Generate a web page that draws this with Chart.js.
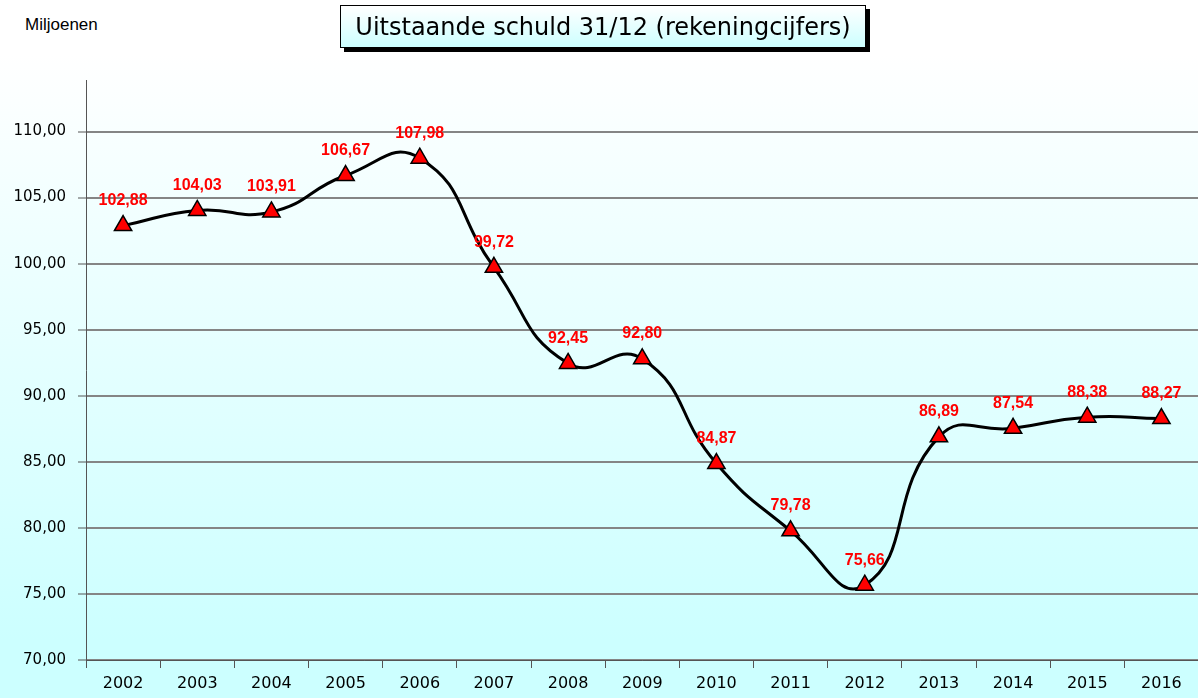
<!DOCTYPE html>
<html>
<head>
<meta charset="utf-8">
<script src="https://cdn.jsdelivr.net/npm/chart.js@4"></script>
<style>
  html, body { margin: 0; padding: 0; }
  body {
    width: 1198px; height: 698px; overflow: hidden; position: relative;
    background: linear-gradient(to bottom, #ffffff 0px, #ffffff 55px, #ccffff 640px, #ccffff 698px);
    font-family: "Liberation Sans", Arial, sans-serif;
  }
  #unit { position: absolute; left: 25px; top: 15px; font-size: 17px; color: #000; }
  #title {
    position: absolute; left: 340px; top: 5px; width: 524px; height: 41px;
    border: 1px solid #000; box-shadow: 4px 4px 0 #000;
    background: linear-gradient(to bottom, #ffffff, #ccffff);
    text-align: center; line-height: 42px;
    font-family: "DejaVu Sans", sans-serif; font-size: 24px; color: #000;
  }
  #wrap { position: absolute; left: 0; top: 0; width: 1210px; height: 698px; }
</style>
</head>
<body>
<div id="unit">Miljoenen</div>
<div id="wrap"><canvas id="chart"></canvas></div>
<div id="title">Uitstaande schuld 31/12 (rekeningcijfers)</div>
<script>
const years = ["2002", "2003", "2004", "2005", "2006", "2007", "2008", "2009", "2010", "2011", "2012", "2013", "2014", "2015", "2016"];
const debt = [102.88, 104.03, 103.91, 106.67, 107.98, 99.72, 92.45, 92.80, 84.87, 79.78, 75.66, 86.89, 87.54, 88.38, 88.27];
const yTicks = [70, 75, 80, 85, 90, 95, 100, 105, 110];

const fmt = v => v.toFixed(2).replace(".", ",");

// red value labels above each marker
const valueLabels = {
  id: "valueLabels",
  afterDatasetsDraw(chart) {
    const ctx = chart.ctx;
    const meta = chart.getDatasetMeta(0);
    ctx.save();
    ctx.font = "bold 16px 'Liberation Sans', Arial, sans-serif";
    ctx.fillStyle = "#ff0000";
    ctx.textAlign = "center";
    ctx.textBaseline = "middle";
    meta.data.forEach((p, i) => {
      ctx.fillText(fmt(debt[i]), p.x, p.y - 25);
    });
    ctx.restore();
  }
};

new Chart(document.getElementById("chart"), {
  type: "line",
  data: {
    labels: years,
    datasets: [{
      data: debt,
      borderColor: "#000000",
      borderWidth: 3,
      tension: 0.5,
      fill: false,
      pointStyle: "triangle",
      pointRadius: 10,
      pointHoverRadius: 10,
      pointBackgroundColor: "#ff0000",
      pointBorderColor: "#000000",
      pointBorderWidth: 1.5
    }]
  },
  options: {
    responsive: true,
    maintainAspectRatio: false,
    animation: false,
    layout: { padding: { top: 80, right: 6, left: 0, bottom: 0 } },
    plugins: { legend: { display: false }, tooltip: { enabled: false } },
    scales: {
      x: {
        offset: true,
        afterFit(scale) { scale.height = 38; },
        grid: { offset: true, drawOnChartArea: false, drawTicks: true, tickLength: 8, color: "#555555" },
        border: { display: true, color: "#555555", width: 1 },
        ticks: { color: "#000", padding: 6, font: { family: "DejaVu Sans", size: 16 }, maxRotation: 0 }
      },
      y: {
        min: 70,
        max: 113.9,
        afterFit(scale) { scale.width = 86; },
        afterBuildTicks(scale) { scale.ticks = yTicks.map(v => ({ value: v })); },
        grid: { color: "#858585", lineWidth: 2, tickLength: 8, tickColor: "#555555", tickWidth: 1 },
        border: { display: true, color: "#555555", width: 1 },
        ticks: { color: "#000", padding: 12, font: { family: "DejaVu Sans", size: 15 }, callback: v => fmt(v) }
      }
    }
  },
  plugins: [valueLabels]
});
</script>
</body>
</html>
